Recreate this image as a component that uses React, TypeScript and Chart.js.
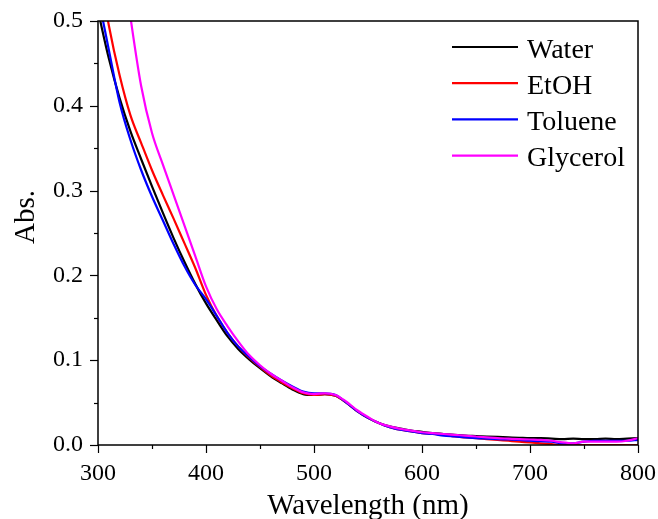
import { useEffect, useRef } from 'react';
import { Chart, registerables } from 'chart.js';

Chart.register(...registerables);

// Wavelength grid (nm)
const wavelengths = [
  300, 310, 320, 330, 340, 350, 360, 370, 380, 390,
  400, 410, 420, 430, 440, 450, 460, 470, 480, 490,
  500, 510, 520, 530, 540, 550, 560, 570, 580, 590,
  600, 610, 620, 630, 640, 650, 660, 670, 680, 690,
  700, 710, 720, 730, 740, 750, 760, 770, 780, 790, 800,
];

// Absorbance spectra in each solvent
const water = [
  0.512, 0.456, 0.409, 0.370, 0.337, 0.305, 0.274, 0.244, 0.216, 0.190,
  0.167, 0.147, 0.128, 0.113, 0.101, 0.0905, 0.081, 0.073, 0.0655, 0.060,
  0.059, 0.060, 0.058, 0.050, 0.040, 0.032, 0.026, 0.022, 0.0195, 0.017,
  0.0155, 0.014, 0.013, 0.012, 0.011, 0.0105, 0.010, 0.0095, 0.009, 0.0085,
  0.008, 0.008, 0.0075, 0.007, 0.0075, 0.007, 0.007, 0.0075, 0.007, 0.0075, 0.008,
];
const etoh = [
  0.57, 0.495, 0.436, 0.389, 0.356, 0.324, 0.295, 0.267, 0.238, 0.209,
  0.177, 0.152, 0.132, 0.116, 0.103, 0.092, 0.082, 0.074, 0.067, 0.061,
  0.059, 0.060, 0.058, 0.050, 0.040, 0.032, 0.026, 0.021, 0.018, 0.016,
  0.014, 0.013, 0.012, 0.010, 0.009, 0.008, 0.007, 0.006, 0.005, 0.004,
  0.003, 0.002, 0.001, 0.000, 0.000, 0.000, 0.000, 0.000, 0.000, 0.000, 0.000,
];
const toluene = [
  0.53, 0.466, 0.404, 0.360, 0.324, 0.293, 0.265, 0.237, 0.211, 0.189,
  0.172, 0.152, 0.132, 0.116, 0.104, 0.093, 0.084, 0.076, 0.069, 0.063,
  0.061, 0.061, 0.059, 0.050, 0.040, 0.032, 0.026, 0.021, 0.018, 0.016,
  0.014, 0.013, 0.011, 0.010, 0.009, 0.008, 0.0075, 0.007, 0.0065, 0.006,
  0.005, 0.0045, 0.004, 0.002, 0.002, 0.004, 0.005, 0.005, 0.005, 0.005, 0.006,
];
const glycerol = [
  0.80, 0.70, 0.60, 0.505, 0.423, 0.368, 0.331, 0.295, 0.259, 0.223,
  0.187, 0.160, 0.140, 0.122, 0.106, 0.094, 0.084, 0.076, 0.068, 0.062,
  0.060, 0.061, 0.059, 0.051, 0.041, 0.033, 0.026, 0.022, 0.019, 0.017,
  0.015, 0.014, 0.013, 0.012, 0.011, 0.010, 0.009, 0.008, 0.0075, 0.007,
  0.0065, 0.006, 0.005, 0.003, 0.002, 0.004, 0.004, 0.004, 0.004, 0.005, 0.008,
];

const seriesLabels = ['Water', 'EtOH', 'Toluene', 'Glycerol'];
const seriesColors = ['#000000', '#ff0000', '#0000ff', '#ff00ff'];
const seriesValues = [water, etoh, toluene, glycerol];

const xMajorTicks = [300, 400, 500, 600, 700, 800];
const xMinorTicks = [350, 450, 550, 650, 750];
const yMajorTicks = [0, 0.1, 0.2, 0.3, 0.4, 0.5];
const yMinorTicks = [0.05, 0.15, 0.25, 0.35, 0.45];

const xTitle = 'Wavelength (nm)';
const yTitle = 'Abs.';

const FONT = '"Liberation Serif", "Times New Roman", serif';

// Frame, outward tick marks, axis titles and the inset legend
const decorations = {
  id: 'decorations',
  afterDraw(chart: any) {
    const { ctx, chartArea, scales } = chart;
    const { left, right, top, bottom } = chartArea;
    ctx.save();
    ctx.strokeStyle = '#000';
    ctx.lineWidth = 1.5;
    ctx.strokeRect(left, top, right - left, bottom - top);

    ctx.lineWidth = 1.2;
    const xs = scales.x;
    const ys = scales.y;
    const seg = (x1: number, y1: number, x2: number, y2: number) => {
      ctx.beginPath();
      ctx.moveTo(x1, y1);
      ctx.lineTo(x2, y2);
      ctx.stroke();
    };
    xMajorTicks.forEach((v) => {
      const p = Math.round(xs.getPixelForValue(v)) + 0.5;
      seg(p, bottom, p, bottom + 8);
    });
    xMinorTicks.forEach((v) => {
      const p = Math.round(xs.getPixelForValue(v)) + 0.5;
      seg(p, bottom, p, bottom + 4);
    });
    yMajorTicks.forEach((v) => {
      const p = Math.round(ys.getPixelForValue(v)) + 0.5;
      seg(left, p, left - 8, p);
    });
    yMinorTicks.forEach((v) => {
      const p = Math.round(ys.getPixelForValue(v)) + 0.5;
      seg(left, p, left - 4, p);
    });

    // axis titles
    ctx.fillStyle = '#000';
    ctx.font = `29px ${FONT}`;
    ctx.textAlign = 'center';
    ctx.textBaseline = 'alphabetic';
    ctx.fillText(xTitle, (left + right) / 2, bottom + 69);
    ctx.save();
    ctx.translate(34, 217);
    ctx.rotate(-Math.PI / 2);
    ctx.fillText(yTitle, 0, 0);
    ctx.restore();

    // legend
    ctx.font = `28px ${FONT}`;
    ctx.textAlign = 'left';
    chart.data.datasets.forEach((ds: any, i: number) => {
      const y = top + 26 + i * 36.2;
      ctx.strokeStyle = ds.borderColor;
      ctx.lineWidth = 2.2;
      seg(right - 186, y, right - 120, y);
      ctx.fillStyle = '#000';
      ctx.fillText(ds.label, right - 111, y + 10.5);
    });
    ctx.restore();
  },
};

export default function App() {
  const canvasRef = useRef<HTMLCanvasElement | null>(null);

  useEffect(() => {
    const canvas = canvasRef.current;
    if (!canvas) return;
    const datasets = seriesLabels.map((label, i) => ({
      label,
      data: wavelengths.map((w, j) => ({ x: w, y: seriesValues[i][j] })),
      borderColor: seriesColors[i],
      backgroundColor: seriesColors[i],
      borderWidth: 2.2,
      pointRadius: 0,
      cubicInterpolationMode: 'monotone' as const,
      order: seriesLabels.length - i,
    }));

    const chart = new Chart(canvas, {
      type: 'line',
      data: { datasets },
      options: {
        animation: false,
        responsive: false,
        maintainAspectRatio: false,
        layout: { padding: { top: 21, right: 20, left: 0, bottom: 0 } },
        plugins: {
          legend: { display: false },
          tooltip: { enabled: false },
        },
        scales: {
          x: {
            type: 'linear',
            min: 300,
            max: 800,
            afterBuildTicks: (scale: any) => {
              scale.ticks = xMajorTicks.map((v) => ({ value: v }));
            },
            afterFit: (scale: any) => {
              scale.height = 74;
              scale.paddingLeft = 0;
              scale.paddingRight = 0;
            },
            grid: { display: true, drawOnChartArea: false, drawTicks: false },
            border: { display: false },
            ticks: {
              padding: 14,
              color: '#000',
              font: { family: FONT, size: 24 },
              maxRotation: 0,
              callback: (v: any) => String(v),
            },
          },
          y: {
            type: 'linear',
            min: 0,
            max: 0.5,
            afterBuildTicks: (scale: any) => {
              scale.ticks = yMajorTicks.map((v) => ({ value: v }));
            },
            afterFit: (scale: any) => {
              scale.width = 98;
              scale.paddingTop = 0;
              scale.paddingBottom = 0;
            },
            grid: { display: true, drawOnChartArea: false, drawTicks: false },
            border: { display: false },
            ticks: {
              padding: 15,
              color: '#000',
              font: { family: FONT, size: 24 },
              callback: (v: any) => Number(v).toFixed(1),
            },
          },
        },
      },
      plugins: [decorations],
    });
    return () => chart.destroy();
  }, []);

  return (
    <div style={{ position: 'fixed', left: 0, top: 0, width: 658, height: 519, background: '#fff' }}>
      <canvas ref={canvasRef} width={658} height={519} style={{ width: 658, height: 519 }} />
    </div>
  );
}
